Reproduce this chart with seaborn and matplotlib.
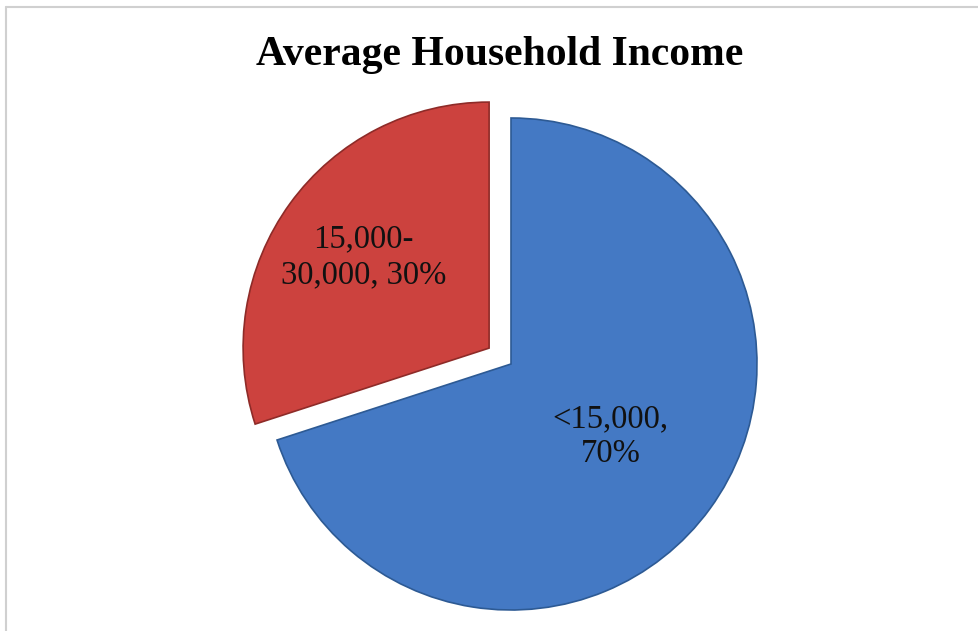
import matplotlib
matplotlib.use("Agg")
import numpy as np
import matplotlib.pyplot as plt
import seaborn as sns
from matplotlib.lines import Line2D

# Data
categories = ["<15,000", "15,000-30,000"]
values = [70, 30]
slice_labels = ["<15,000,\n70%", "15,000-\n30,000, 30%"]
title = "Average Household Income"

sns.set_theme(style="white")
plt.rcParams["font.family"] = ["Liberation Serif", "DejaVu Serif"]

colors = ["#4479c4", "#cc423e"]
edges = ["#2d5a94", "#8e2b28"]
label_dist = [0.50, 0.63]

fig = plt.figure(figsize=(9.79, 6.31), dpi=100)
fig.patch.set_facecolor("white")

W, H = 979, 631
cx, cy, r = 511, 631 - 364, 246
lim = 1.25
size = 2 * r * lim
ax = fig.add_axes([(cx - size / 2) / W, (cy - size / 2) / H, size / W, size / H])

wedges, texts, autotexts = ax.pie(
    values,
    colors=colors,
    startangle=90,
    counterclock=False,
    explode=[0, 0.11],
    autopct=lambda p: "",
    pctdistance=0.54,
    wedgeprops=dict(linewidth=1.2),
)
for w, ec in zip(wedges, edges):
    w.set_edgecolor(ec)
for t, lab, w, d in zip(autotexts, slice_labels, wedges, label_dist):
    mid = np.deg2rad((w.theta1 + w.theta2) / 2)
    t.set_position((w.center[0] + d * w.r * np.cos(mid),
                    w.center[1] + d * w.r * np.sin(mid)))
    t.set_text(lab)
    t.set_fontsize(23.5)
    t.set_color("#111111")
    t.set_linespacing(1.2)
    t.set_ha("center")
    t.set_va("center")
    t.set_multialignment("center")

ax.set_xlim(-lim, lim)
ax.set_ylim(-lim, lim)
ax.set_aspect("equal")
ax.axis("off")

fig.text(0.51, 1 - 55 / H, title, ha="center", va="center",
         fontsize=30, fontweight="bold", color="black")

# light frame lines (top and left)
fig.add_artist(Line2D([6 / W, 1], [1 - 7 / H, 1 - 7 / H], transform=fig.transFigure,
                      color="#d0d0d0", linewidth=1.5))
fig.add_artist(Line2D([6 / W, 6 / W], [0, 1 - 7 / H], transform=fig.transFigure,
                      color="#d0d0d0", linewidth=1.5))

fig.savefig("out.png", dpi=100, facecolor="white")
